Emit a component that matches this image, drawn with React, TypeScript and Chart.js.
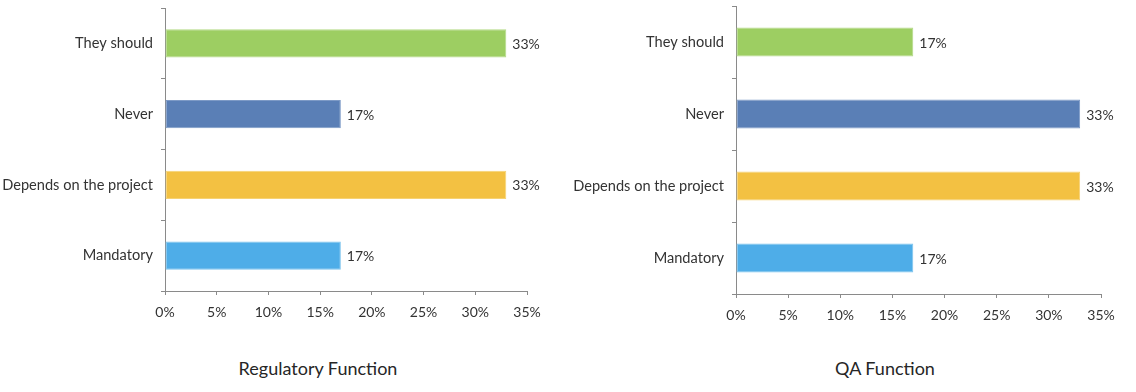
import React, { useEffect, useRef } from "react";
import { Chart, registerables } from "chart.js";

Chart.register(...registerables);

const categories = ["They should", "Never", "Depends on the project", "Mandatory"];
const regulatoryValues = [33, 17, 33, 17];
const qaValues = [17, 33, 33, 17];
const barColors = ["#9DCE62", "#5A7FB6", "#F3C142", "#4EADE8"];
const barBorders = ["#B3DA86", "#7D9AC6", "#F6D273", "#7CC3EE"];
const xMin = 0;
const xMax = 35;
const xStep = 5;
const titles = ["Regulatory Function", "QA Function"];

const FONT = "Lato, 'Liberation Sans', sans-serif";
const TEXT = "#333333";
const AXIS = "#8a8a8a";

type Panel = {
  values: number[];
  title: string;
  left: number;
  width: number;
  areaLeft: number;
  areaRight: number;
  areaTop: number;
  areaBottom: number;
  titleX: number;
};

const panels: Panel[] = [
  { values: regulatoryValues, title: titles[0], left: 0, width: 560, areaLeft: 165, areaRight: 527, areaTop: 8, areaBottom: 291, titleX: 318 },
  { values: qaValues, title: titles[1], left: 570, width: 566, areaLeft: 166, areaRight: 531, areaTop: 6, areaBottom: 294, titleX: 885 },
];

const CANVAS_H = 340;

const valueLabels = {
  id: "valueLabels",
  afterDatasetsDraw(chart: any) {
    const ctx = chart.ctx;
    const meta = chart.getDatasetMeta(0);
    const data = chart.data.datasets[0].data as number[];
    ctx.save();
    ctx.font = `14px ${FONT}`;
    ctx.fillStyle = TEXT;
    ctx.textAlign = "left";
    ctx.textBaseline = "middle";
    meta.data.forEach((el: any, i: number) => {
      ctx.fillText(`${data[i]}%`, el.x + 6, el.y + 1);
    });
    ctx.restore();
  },
};

function BarPanel({ p }: { p: Panel }) {
  const ref = useRef<HTMLCanvasElement>(null);
  useEffect(() => {
    if (!ref.current) return;
    const xAxisH = 34;
    const chart = new Chart(ref.current, {
      type: "bar",
      data: {
        labels: categories,
        datasets: [
          {
            data: p.values,
            backgroundColor: barColors,
            borderColor: barBorders,
            borderWidth: 1,
            borderSkipped: false,
            barPercentage: 0.4,
            categoryPercentage: 1,
          },
        ],
      },
      options: {
        indexAxis: "y",
        animation: false,
        responsive: false,
        maintainAspectRatio: false,
        devicePixelRatio: 1,
        layout: {
          padding: {
            left: 0,
            top: p.areaTop,
            right: p.width - p.areaRight,
            bottom: CANVAS_H - p.areaBottom - xAxisH,
          },
        },
        plugins: {
          legend: { display: false },
          tooltip: { enabled: false },
          title: { display: false },
        },
        scales: {
          x: {
            type: "linear",
            min: xMin,
            max: xMax,
            ticks: {
              stepSize: xStep,
              callback: (v: any) => `${v}%`,
              color: TEXT,
              font: { family: FONT, size: 14 },
              padding: 9,
            },
            grid: { drawOnChartArea: false, tickLength: 4, color: AXIS },
            border: { color: AXIS, width: 1 },
            afterFit: (s: any) => {
              s.height = xAxisH;
              s.paddingLeft = 0;
              s.paddingRight = 0;
            },
          },
          y: {
            type: "category",
            ticks: {
              color: TEXT,
              font: { family: FONT, size: 14.6 },
              padding: 8,
            },
            grid: { drawOnChartArea: false, offset: true, tickLength: 4, color: AXIS },
            border: { color: AXIS, width: 1 },
            afterFit: (s: any) => {
              s.width = p.areaLeft;
              s.paddingTop = 0;
              s.paddingBottom = 0;
            },
          },
        },
      },
      plugins: [valueLabels],
    });
    return () => chart.destroy();
  }, [p]);
  return (
    <canvas
      ref={ref}
      width={p.width}
      height={CANVAS_H}
      style={{ position: "absolute", left: p.left, top: 0, width: p.width, height: CANVAS_H }}
    />
  );
}

export default function App() {
  return (
    <div style={{ position: "absolute", left: 0, top: 0, width: 1136, height: 392, background: "#fff", overflow: "hidden" }}>
      {panels.map((p, i) => (
        <BarPanel key={i} p={p} />
      ))}
      {panels.map((p, i) => (
        <div
          key={`t${i}`}
          style={{
            position: "absolute",
            left: p.titleX - 150,
            width: 300,
            top: 357,
            textAlign: "center",
            fontFamily: FONT,
            fontSize: 18,
            lineHeight: "22px",
            color: "#262626",
          }}
        >
          {p.title}
        </div>
      ))}
    </div>
  );
}
